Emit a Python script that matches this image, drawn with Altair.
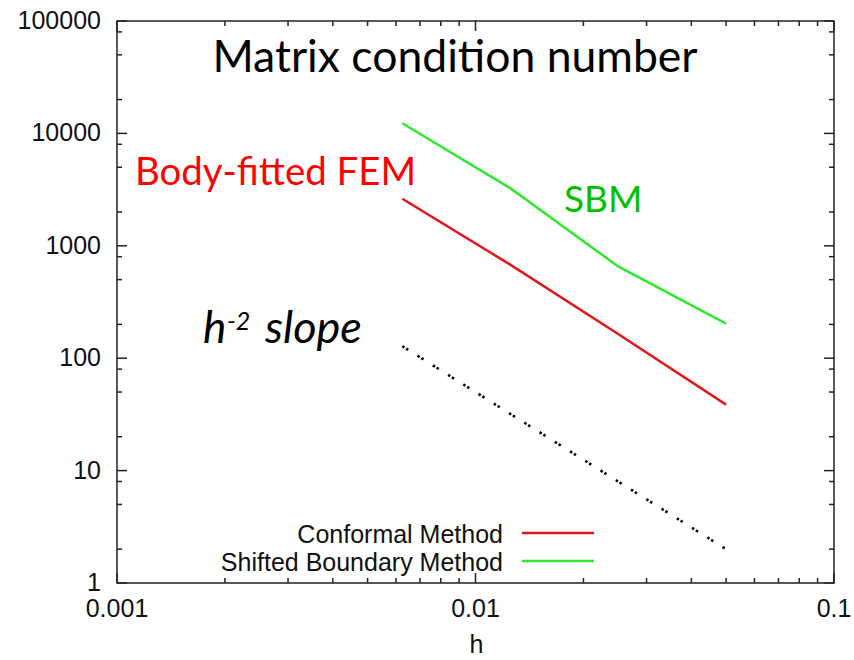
import altair as alt
import pandas as pd

# ---- data ----
h_values = [0.00625, 0.0125, 0.025, 0.05]
conformal = [2620, 680, 164, 38.6]
sbm = [12300, 3260, 655, 203]
slope_ref = [128, 32, 8, 2]

x_major = [0.001, 0.01, 0.1]
x_major_labels = ["0.001", "0.01", "0.1"]
x_minor = [0.002, 0.003, 0.004, 0.005, 0.006, 0.007, 0.008, 0.009,
           0.02, 0.03, 0.04, 0.05, 0.06, 0.07, 0.08, 0.09]
y_major = [1, 10, 100, 1000, 10000, 100000]
y_major_labels = ["1", "10", "100", "1000", "10000", "100000"]
y_minor = [2, 5, 8, 20, 50, 80, 200, 500, 800, 2000, 5000, 8000, 20000, 50000, 80000]

legend_labels = ["Conformal Method", "Shifted Boundary Method"]
legend_colors = ["#e3161c", "#30e830"]
x_title = "h"

W, H = 717, 562
xscale = alt.Scale(type="log", domain=[0.001, 0.1], nice=False)
yscale = alt.Scale(type="log", domain=[1, 100000], nice=False)

AXFONT = "Liberation Sans"
AXSIZE = 25

lines_df = pd.DataFrame({
    "h": h_values * 2,
    "v": conformal + sbm,
    "s": [legend_labels[0]] * 4 + [legend_labels[1]] * 4,
})
slope_df = pd.DataFrame({"h": h_values, "v": slope_ref})

lines = alt.Chart(lines_df).mark_line(strokeWidth=2.5).encode(
    x=alt.X("h:Q", scale=xscale, axis=None),
    y=alt.Y("v:Q", scale=yscale, axis=None),
    color=alt.Color("s:N", scale=alt.Scale(domain=legend_labels, range=legend_colors), legend=None),
    detail="s:N",
)

slope_line = alt.Chart(slope_df).mark_line(
    strokeWidth=2.6, color="#000", strokeDash=[2.5, 2, 2.5, 11]
).encode(x=alt.X("h:Q", scale=xscale, axis=None), y=alt.Y("v:Q", scale=yscale, axis=None))

TICK = dict(color="#222", strokeWidth=1.5)

def xticks(vals, length):
    df = pd.DataFrame({"t": vals})
    bot = alt.Chart(df).mark_rule(**TICK).encode(
        x=alt.X("t:Q", scale=xscale, axis=None), y=alt.value(H), y2=alt.value(H - length))
    top = alt.Chart(df).mark_rule(**TICK).encode(
        x=alt.X("t:Q", scale=xscale, axis=None), y=alt.value(0), y2=alt.value(length))
    return [bot, top]

def yticks(vals, length):
    df = pd.DataFrame({"t": vals})
    left = alt.Chart(df).mark_rule(**TICK).encode(
        y=alt.Y("t:Q", scale=yscale, axis=None), x=alt.value(0), x2=alt.value(length))
    right = alt.Chart(df).mark_rule(**TICK).encode(
        y=alt.Y("t:Q", scale=yscale, axis=None), x=alt.value(W), x2=alt.value(W - length))
    return [left, right]

ticks = xticks(x_major, 10) + xticks(x_minor, 5) + yticks(y_major, 10) + yticks(y_minor, 5)

# tick labels placed through the scales
xlab = alt.Chart(pd.DataFrame({"v": x_major, "lab": x_major_labels})).mark_text(
    align="center", baseline="top", font=AXFONT, fontSize=AXSIZE, color="#111"
).encode(x=alt.X("v:Q", scale=xscale, axis=None), y=alt.value(H + 14), text="lab:N")
ylab = alt.Chart(pd.DataFrame({"v": y_major, "lab": y_major_labels})).mark_text(
    align="right", baseline="middle", font=AXFONT, fontSize=AXSIZE, color="#111"
).encode(y=alt.Y("v:Q", scale=yscale, axis=None), x=alt.value(-16), text="lab:N")

def txt(s, x, y, size, color, font="Lato", align="left", style="normal", baseline="alphabetic"):
    return alt.Chart(pd.DataFrame({"t": [s]})).mark_text(
        align=align, baseline=baseline, font=font, fontSize=size, color=color,
        fontStyle=style
    ).encode(text="t:N", x=alt.value(x), y=alt.value(y))

annots = [
    txt(x_title, W / 2 + 1, 624, AXSIZE, "#111", font=AXFONT, align="center", baseline="middle"),
    txt("Matrix condition number", 338, 51, 44.5, "#000", align="center"),
    txt("Body-fitted FEM", 18, 164, 38.4, "#ff0000"),
    txt("SBM", 447, 191, 37, "#00c000"),
    txt("h", 86, 322, 44, "#000", style="italic"),
    txt("-2", 110, 309, 25, "#000", style="italic"),
    txt("slope", 148, 322, 45, "#000", style="italic"),
]

leg_y = [514, 542]
legend_parts = []
for i, lab in enumerate(legend_labels):
    legend_parts.append(
        alt.Chart(pd.DataFrame({"t": [lab]})).mark_text(
            align="right", baseline="middle", font=AXFONT, fontSize=AXSIZE, color="#111"
        ).encode(text="t:N", x=alt.value(386), y=alt.value(leg_y[i]))
    )
    legend_parts.append(
        alt.Chart(pd.DataFrame({"t": [lab]})).mark_rule(strokeWidth=2.5, color=legend_colors[i]).encode(
            x=alt.value(405), x2=alt.value(477), y=alt.value(leg_y[i] - 2))
    )

chart = alt.layer(lines, slope_line, *ticks, xlab, ylab, *annots, *legend_parts).properties(
    width=W, height=H,
    autosize=alt.AutoSizeParams(type="none"),
    padding={"left": 117, "top": 21, "right": 20, "bottom": 77},
    background="white",
).configure_view(stroke="#222", strokeWidth=1.5)

chart.save("out.html", embed_options={"renderer": "svg", "actions": False})
